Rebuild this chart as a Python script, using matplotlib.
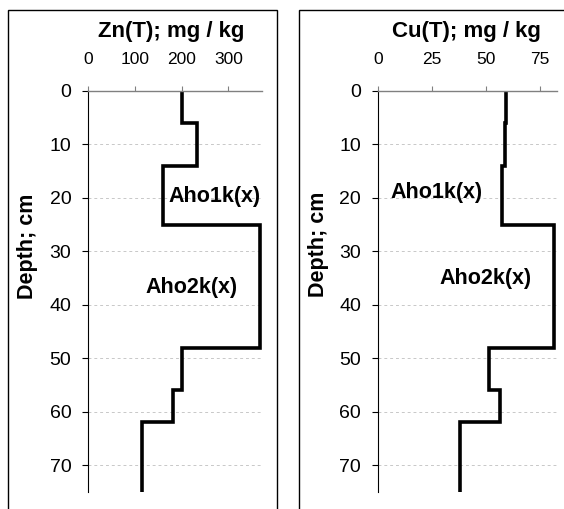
import numpy as np
import matplotlib
matplotlib.use('Agg')
import matplotlib.pyplot as plt
from matplotlib.patches import Rectangle

plt.rcParams['font.family'] = ['Liberation Sans', 'DejaVu Sans']

# layer boundaries (depth, cm) and total contents
depth_edges = [0, 6, 14, 25, 48, 56, 62, 75]
zn = [200, 233, 161, 367, 202, 181, 115]
cu = [59.3, 59.0, 57.7, 81.8, 51.7, 56.5, 38.2]

zn_ticks = [0, 100, 200, 300]
cu_ticks = [0, 25, 50, 75]
depth_ticks = [0, 10, 20, 30, 40, 50, 60, 70]

W, H = 564, 509
fig = plt.figure(figsize=(W / 100, H / 100), dpi=100)


def px_axes(x0, x1, ytop, ybot):
    return fig.add_axes([x0 / W, 1 - ybot / H, (x1 - x0) / W, (ybot - ytop) / H])


def style(ax, vals, xmax, ticks, labels):
    ax.stairs(vals, depth_edges, orientation='horizontal', baseline=None,
              color='black', lw=2.6)
    ax.set_ylim(75, 0)
    ax.set_xlim(0, xmax)
    ax.set_yticks(depth_ticks)
    ax.set_xticks(ticks)
    ax.xaxis.tick_top()
    ax.tick_params(axis='x', direction='out', length=3.5, width=0.8,
                   color='#808080', pad=13.5, labelsize=12.5)
    ax.tick_params(axis='y', direction='out', length=4, width=0.8,
                   pad=8, labelsize=14)
    ax.spines['right'].set_visible(False)
    ax.spines['bottom'].set_visible(False)
    ax.spines['top'].set_color('#808080')
    ax.spines['top'].set_linewidth(1.0)
    ax.spines['left'].set_linewidth(0.8)
    ax.yaxis.grid(True, ls=(0, (3, 3)), color='#c8c8c8', lw=0.7)
    ax.set_axisbelow(True)
    for txt, (x, y) in labels:
        ax.text(x, y, txt, ha='center', va='center', fontsize=15.5,
                fontweight='bold')


ax1 = px_axes(88, 262, 91, 492)
style(ax1, zn, 372, zn_ticks, [('Aho1k(x)', (270, 19.8)), ('Aho2k(x)', (222, 36.7))])
ax2 = px_axes(377.7, 557, 91, 492)
style(ax2, cu, 83, cu_ticks, [('Aho1k(x)', (27.1, 18.9)), ('Aho2k(x)', (50, 35.1))])

fig.text(171 / W, 1 - 32 / H, 'Zn(T); mg / kg', ha='center', va='center',
         fontsize=16, fontweight='bold')
fig.text(466 / W, 1 - 32 / H, 'Cu(T); mg / kg', ha='center', va='center',
         fontsize=16, fontweight='bold')
fig.text(28 / W, 1 - 246 / H, 'Depth; cm', rotation=90, ha='center',
         va='center', fontsize=15.5, fontweight='bold')
fig.text(318.5 / W, 1 - 244 / H, 'Depth; cm', rotation=90, ha='center',
         va='center', fontsize=15.5, fontweight='bold')

# chart area frames
fig.add_artist(Rectangle((8 / W, -0.1), 269 / W, 1 - 10 / H + 0.1,
                         transform=fig.transFigure, fill=False, lw=1.0,
                         edgecolor='black'))
fig.add_artist(Rectangle((299 / W, -0.1), 0.6, 1 - 10 / H + 0.1,
                         transform=fig.transFigure, fill=False, lw=1.0,
                         edgecolor='black'))

fig.savefig('out.png', dpi=100)
